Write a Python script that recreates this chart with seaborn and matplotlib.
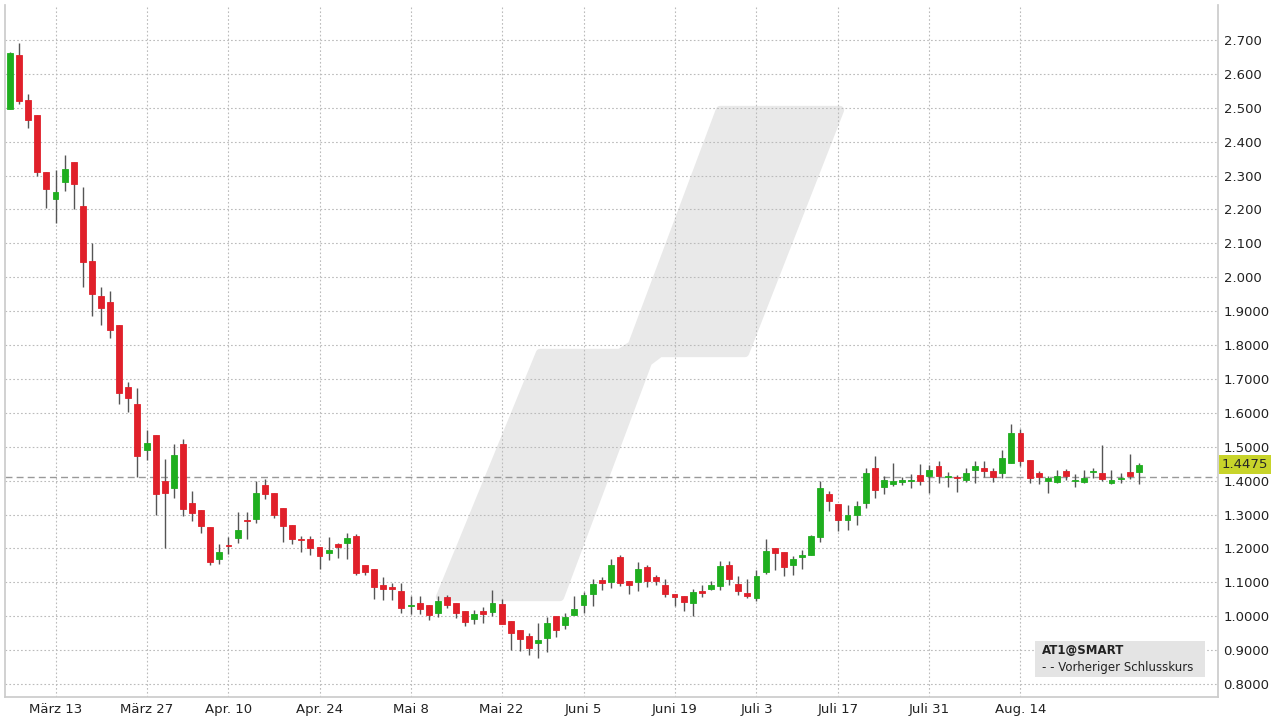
import numpy as np
import pandas as pd
import matplotlib
matplotlib.use("Agg")
import matplotlib.pyplot as plt
import seaborn as sns
from matplotlib.patches import Polygon, FancyBboxPatch

opens = [2.495,2.655,2.524,2.48,2.31,2.23,2.28,2.34,2.21,2.047,1.945,1.928,1.86,1.676,1.627,1.49,1.534,1.40,1.379,1.508,1.335,1.314,1.262,1.168,1.21,
 1.232,1.282,1.287,1.387,1.365,1.318,1.269,1.228,1.227,1.203,1.187,1.213,1.217,1.236,1.151,1.141,1.092,1.083,1.074,1.03,1.04,1.032,1.01,1.057,1.04,1.017,0.993,1.015,1.013,1.035,0.986,0.96,0.941,0.92,0.937,1.001,0.973,
 1.003,1.033,1.067,1.107,1.102,1.174,1.105,1.102,1.144,1.117,1.092,1.065,1.06,1.04,1.074,1.082,1.09,1.151,1.095,1.07,1.055,1.131,1.20,1.19,1.151,1.174,1.182,1.234,1.36,1.33,1.284,1.30,1.335,1.436,
 1.38,1.39,1.395,1.398,1.416,1.415,1.443,1.411,1.411,1.402,1.431,1.438,1.43,1.422,1.453,1.542,1.461,1.424,1.398,1.397,1.428,1.399,1.395,1.425,1.422,1.392,1.404,1.426,1.425]
closes = [2.66,2.52,2.465,2.31,2.26,2.25,2.32,2.275,2.045,1.95,1.91,1.843,1.66,1.643,1.474,1.51,1.36,1.363,1.477,1.317,1.306,1.265,1.161,1.19,1.208,
 1.256,1.280,1.365,1.36,1.30,1.266,1.227,1.226,1.20,1.177,1.197,1.205,1.232,1.129,1.131,1.087,1.08,1.082,1.025,1.03,1.023,1.003,1.046,1.032,1.01,0.983,1.008,1.008,1.04,0.978,0.952,0.932,0.907,0.929,0.98,0.96,0.998,
 1.023,1.062,1.095,1.097,1.151,1.097,1.092,1.139,1.105,1.105,1.065,1.057,1.043,1.072,1.069,1.092,1.148,1.11,1.075,1.06,1.118,1.193,1.187,1.146,1.168,1.182,1.236,1.377,1.341,1.284,1.30,1.325,1.424,1.374,
 1.402,1.399,1.401,1.401,1.40,1.431,1.415,1.413,1.407,1.423,1.443,1.429,1.412,1.467,1.542,1.459,1.407,1.412,1.408,1.413,1.415,1.401,1.408,1.427,1.406,1.401,1.406,1.415,1.4475]
highs = [2.665,2.69,2.54,2.48,2.31,2.315,2.36,2.34,2.265,2.10,1.97,1.96,1.86,1.69,1.674,1.55,1.534,1.465,1.508,1.524,1.37,1.314,1.262,1.213,1.234,
 1.308,1.308,1.40,1.404,1.365,1.318,1.269,1.237,1.237,1.203,1.234,1.215,1.247,1.244,1.151,1.141,1.116,1.099,1.099,1.06,1.06,1.032,1.059,1.062,1.04,1.017,1.02,1.027,1.077,1.051,0.986,0.96,0.952,0.98,0.998,1.001,1.01,
 1.06,1.072,1.11,1.117,1.168,1.18,1.105,1.16,1.151,1.122,1.109,1.065,1.06,1.082,1.092,1.104,1.164,1.163,1.118,1.109,1.136,1.228,1.20,1.19,1.178,1.195,1.241,1.399,1.369,1.33,1.328,1.34,1.438,1.472,
 1.414,1.453,1.412,1.42,1.449,1.446,1.457,1.425,1.418,1.438,1.459,1.459,1.438,1.49,1.567,1.552,1.461,1.428,1.414,1.431,1.433,1.42,1.431,1.438,1.505,1.431,1.422,1.48,1.451]
lows = [2.495,2.51,2.44,2.30,2.205,2.16,2.255,2.20,1.97,1.886,1.86,1.82,1.627,1.604,1.412,1.46,1.30,1.20,1.35,1.296,1.28,1.247,1.15,1.154,1.185,
 1.215,1.227,1.276,1.346,1.29,1.22,1.212,1.19,1.182,1.139,1.167,1.172,1.168,1.123,1.121,1.051,1.049,1.049,1.01,1.008,1.008,0.988,0.998,1.025,0.995,0.971,0.978,0.98,1.0,0.978,0.90,0.898,0.887,0.877,0.895,0.939,0.964,
 1.003,1.01,1.03,1.079,1.084,1.089,1.067,1.075,1.087,1.092,1.056,1.03,1.016,1.0,1.057,1.079,1.079,1.092,1.062,1.053,1.046,1.124,1.138,1.118,1.121,1.139,1.182,1.218,1.311,1.252,1.256,1.269,1.318,1.35,
 1.36,1.384,1.387,1.379,1.387,1.365,1.394,1.38,1.368,1.397,1.394,1.412,1.397,1.407,1.453,1.443,1.392,1.389,1.364,1.394,1.402,1.382,1.394,1.409,1.398,1.389,1.394,1.404,1.389]

dates = pd.bdate_range("2023-03-06", "2023-08-31")
holidays = pd.to_datetime(["2023-04-07", "2023-05-29", "2023-06-19", "2023-07-04"])
dates = dates[~dates.isin(holidays)]
tick_dates = ["2023-03-13","2023-03-27","2023-04-10","2023-04-24","2023-05-08","2023-05-22",
              "2023-06-05","2023-06-20","2023-07-03","2023-07-17","2023-07-31","2023-08-14"]
tick_labels = ["März 13","März 27","Apr. 10","Apr. 24","Mai 8","Mai 22","Juni 5","Juni 19",
               "Juli 3","Juli 17","Juli 31","Aug. 14"]
ytick_vals = [0.8,0.9,1.0,1.1,1.2,1.3,1.4,1.5,1.6,1.7,1.8,1.9,2.0,2.1,2.2,2.3,2.4,2.5,2.6,2.7]
ytick_labels = ["0.8000","0.9000","1.0000","1.1000","1.2000","1.3000","1.4000","1.5000","1.6000",
                "1.7000","1.8000","1.9000","2.000","2.100","2.200","2.300","2.400","2.500","2.600","2.700"]
prev_close = 1.411
last_price = "1.4475"

n = len(dates)
df = pd.DataFrame({"i": np.arange(n), "open": opens[:n], "close": closes[:n], "high": highs[:n], "low": lows[:n]})
df["up"] = df["close"] >= df["open"]

sns.set_theme(style="white")
fig = plt.figure(figsize=(12.73, 7.2), dpi=100)
ax = fig.add_axes([5/1273, 23/720, 1213/1273, 692/720])
ax.patch.set_alpha(0)

# watermark (drawn inside axes, below grid)
pts = [(440,597),(560,597),(648,362),(660,353),(745,353),(840,110),(720,110),(632,345),(620,353),(540,353)]
poly = Polygon([(x/1273, 1-y/720) for x, y in pts], closed=True, transform=fig.transFigure,
               facecolor="#e9e9e9", edgecolor="#e9e9e9", lw=6, zorder=0.1, joinstyle="round")
ax.add_artist(poly)
ax.set_axisbelow(True)

col = np.where(df["up"], "#1fae1f", "#e0202a")
ax.vlines(df["i"], df["low"], df["high"], color="#555555", lw=1, zorder=3)
bottom = np.minimum(df["open"], df["close"])
height = np.maximum(np.abs(df["close"] - df["open"]), 0.003)
ax.bar(df["i"], height, bottom=bottom, width=0.65, color=col, edgecolor=col, lw=0.6, zorder=4)

ax.axhline(prev_close, color="#999999", lw=1, ls=(0, (5, 3)), zorder=2)

ax.set_ylim(0.762, 2.803)
ax.set_xlim(-0.55, 132.7)
ax.yaxis.tick_right()
ax.set_yticks(ytick_vals)
ax.set_yticklabels(ytick_labels, fontsize=9.5, color="#222222")
tpos = [int(np.where(dates == pd.Timestamp(d))[0][0]) for d in tick_dates]
ax.set_xticks(tpos)
ax.set_xticklabels(tick_labels, fontsize=9.5, color="#222222")
ax.tick_params(length=0, pad=4)
ax.grid(True, color="#bbbbbb", ls=(0, (1.5, 2)), lw=0.8, zorder=0.5)
ax.spines["top"].set_visible(False)
for s in ["left", "right", "bottom"]:
    ax.spines[s].set_color("#cccccc")

ax.text(1.003, (float(last_price) - 0.762) / (2.803 - 0.762), last_price, transform=ax.transAxes,
        fontsize=9.5, va="center", ha="left",
        bbox=dict(boxstyle="square,pad=0.2", fc="#c8d42a", ec="none"))

box = FancyBboxPatch((1035/1273, 1-677/720), 170/1273, 36/720, boxstyle="square,pad=0",
                     transform=fig.transFigure, fc="#e4e4e4", ec="none")
fig.patches.append(box)
fig.text(1042/1273, 1-651/720, "AT1@SMART", fontsize=8.5, fontweight="bold", va="center", color="#222222")
fig.text(1042/1273, 1-667/720, "- - Vorheriger Schlusskurs", fontsize=8.5, va="center", color="#222222")

fig.savefig("out.png", dpi=100)
